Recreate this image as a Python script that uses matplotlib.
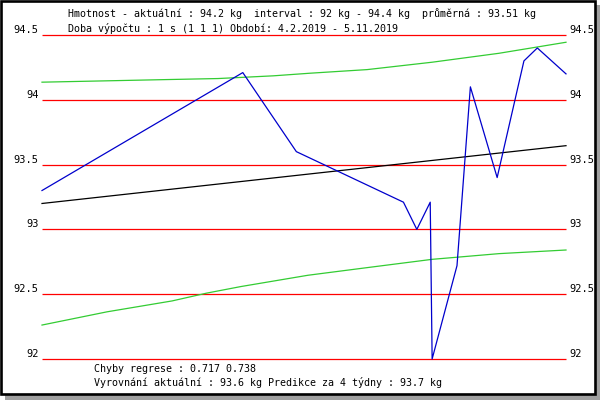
import matplotlib
matplotlib.use("Agg")
import matplotlib.pyplot as plt
from matplotlib.patches import Rectangle

# ---- data (x = days since 4.2.2019) ----
weight_days = [0, 105, 133, 189, 196, 203, 204, 217, 224, 238, 252, 259, 274]
weight_vals = [93.30, 94.21, 93.60, 93.21, 93.00, 93.21, 92.00, 92.72, 94.10, 93.40, 94.30, 94.40, 94.20]

trend_days = [0, 274]
trend_vals = [93.20, 93.646]

upper_days = [0, 39, 65, 92, 121, 140, 170, 204, 239, 274]
upper_vals = [94.136, 94.148, 94.156, 94.164, 94.185, 94.205, 94.233, 94.290, 94.359, 94.444]

lower_days = [0, 34, 68, 86, 104, 139, 170, 204, 239, 274]
lower_vals = [92.262, 92.364, 92.448, 92.508, 92.559, 92.646, 92.705, 92.769, 92.813, 92.841]

grid_vals = [92.0, 92.5, 93.0, 93.5, 94.0, 94.5]
grid_labels = ["92", "92.5", "93", "93.5", "94", "94.5"]

header1 = "Hmotnost - aktuální : 94.2 kg  interval : 92 kg - 94.4 kg  průměrná : 93.51 kg"
header2 = "Doba výpočtu : 1 s (1 1 1) Období: 4.2.2019 - 5.11.2019"
footer1 = "Chyby regrese : 0.717 0.738"
footer2 = "Vyrovnání aktuální : 93.6 kg Predikce za 4 týdny : 93.7 kg"

W, H = 600, 400
fig = plt.figure(figsize=(W / 100, H / 100), dpi=100, facecolor="white")

def fx(px):
    return px / W

def fy(py):
    return 1 - py / H

# shadow and frame
fig.patches.append(Rectangle((fx(5), fy(400)), 595 / W, 395 / H, transform=fig.transFigure,
                             facecolor="#a0a0a0", edgecolor="none", zorder=0))
fig.patches.append(Rectangle((fx(1.3), fy(394)), 593.4 / W, 393 / H, transform=fig.transFigure,
                             facecolor="white", edgecolor="black", linewidth=1.9, zorder=1))

ax = fig.add_axes([fx(42), fy(359), (566 - 42) / W, (359 - 35) / H])
ax.set_zorder(3)
ax.set_facecolor("none")
ax.set_xlim(trend_days[0], trend_days[-1])
ax.set_ylim(grid_vals[0], grid_vals[-1])
for s in ax.spines.values():
    s.set_visible(False)
ax.set_xticks([])

lw = 0.9
ax.hlines(grid_vals, trend_days[0], trend_days[-1], colors="#ff0000", linewidth=lw, clip_on=False, zorder=2)
ax.plot(upper_days, upper_vals, color="#33cc33", linewidth=lw, clip_on=False, zorder=3)
ax.plot(lower_days, lower_vals, color="#33cc33", linewidth=lw, clip_on=False, zorder=3)
ax.plot(trend_days, trend_vals, color="black", linewidth=lw, clip_on=False, zorder=4)
ax.plot(weight_days, weight_vals, color="#0000cc", linewidth=lw, clip_on=False, zorder=5)

mono = "DejaVu Sans Mono"
ax.set_yticks(grid_vals)
ax.set_yticklabels(grid_labels)
ax.tick_params(axis="y", length=0, left=False, right=False, labelleft=True, labelright=True,
               pad=2.5, labelsize=7.5)
for t in ax.yaxis.get_major_ticks():
    t.label1.set_fontfamily(mono)
    t.label2.set_fontfamily(mono)
    t.label1.set_verticalalignment("bottom")
    t.label2.set_verticalalignment("bottom")

fs = 7.2
fig.text(fx(68), fy(13.5), header1, fontsize=fs, family=mono, va="center", ha="left", zorder=6)
fig.text(fx(68), fy(29), header2, fontsize=fs, family=mono, va="center", ha="left", zorder=6)
fig.text(fx(94), fy(369), footer1, fontsize=fs, family=mono, va="center", ha="left", zorder=6)
fig.text(fx(94), fy(382.5), footer2, fontsize=fs, family=mono, va="center", ha="left", zorder=6)

fig.savefig("out.png", dpi=100, facecolor="white")
